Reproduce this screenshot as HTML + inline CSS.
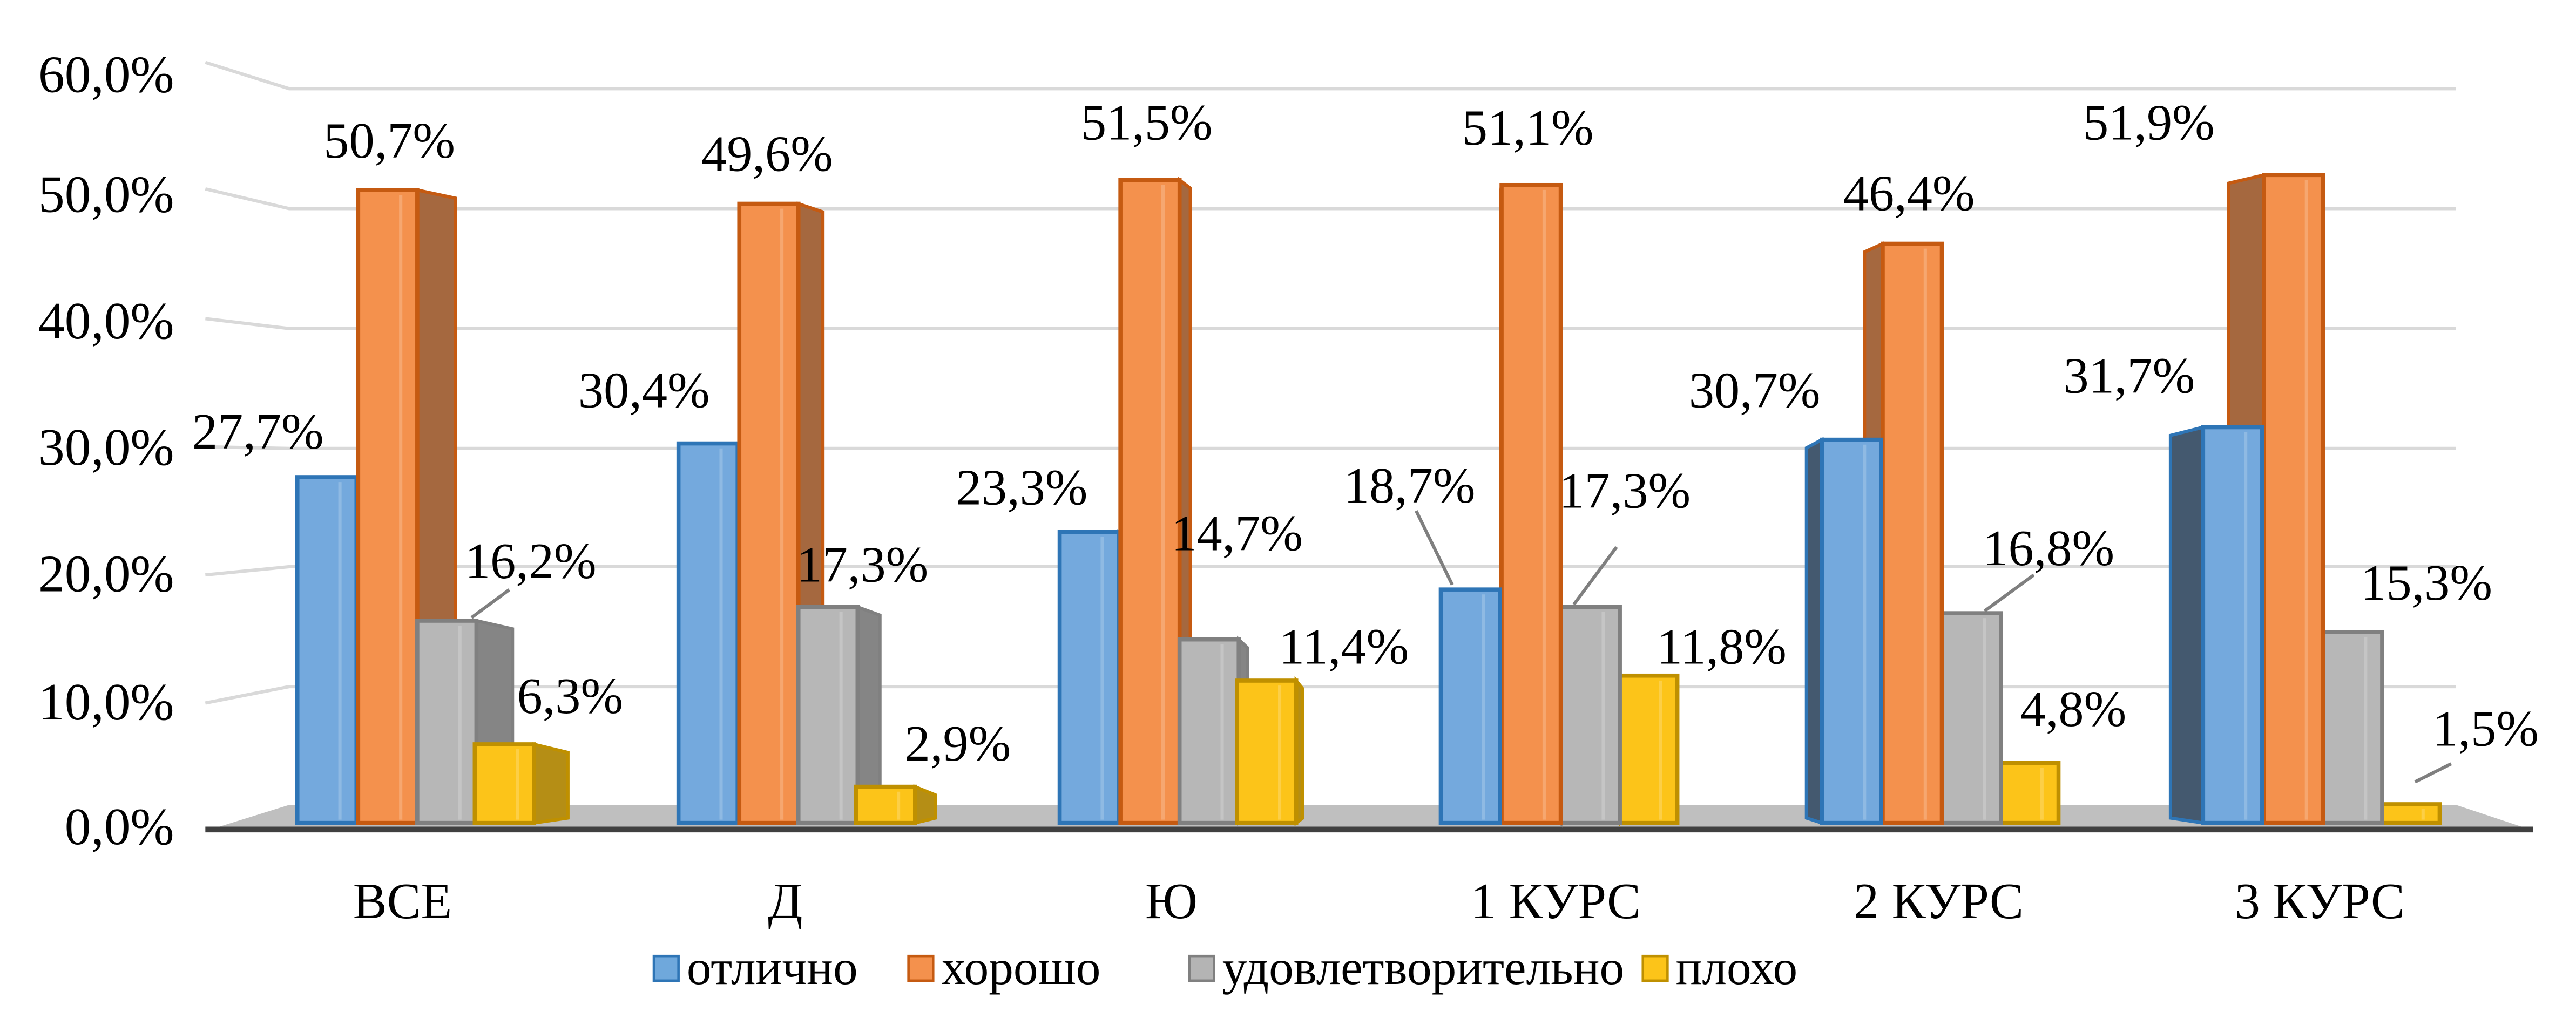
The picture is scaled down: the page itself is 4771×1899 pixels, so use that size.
<!DOCTYPE html>
<html><head><meta charset="utf-8"><style>
html,body{margin:0;padding:0;background:#fff;}
svg{display:block;}
</style></head><body>
<svg id="c" width="4771" height="1899" viewBox="0 0 1568 624" preserveAspectRatio="none" xmlns="http://www.w3.org/2000/svg" font-family="'Liberation Serif', 'Times New Roman', 'DejaVu Serif', serif">
<g stroke="#d9d9d9" stroke-width="2" fill="none">
<polyline points="125,38 176,54 1495,54"/>
<polyline points="125,115 176,127 1495,127"/>
<polyline points="125,194 176,200 1495,200"/>
<polyline points="125,272 176,273 1495,273"/>
<polyline points="125,350 176,345 1495,345"/>
<polyline points="125,428 176,418 1495,418"/>
</g>
<polygon points="176,490 1495,490 1540,505 128,505" fill="#bfbfbf"/>
<line x1="125" y1="505" x2="1542" y2="505" stroke="#404040" stroke-width="3.5"/>
<g id="bars"></g>
<g font-size="32" text-anchor="end" fill="#000">
<text x="106" y="56">60,0%</text>
<text x="106" y="129">50,0%</text>
<text x="106" y="206">40,0%</text>
<text x="106" y="283">30,0%</text>
<text x="106" y="360">20,0%</text>
<text x="106" y="438">10,0%</text>
<text x="106" y="514">0,0%</text>
</g>
<g font-size="31" text-anchor="middle" fill="#000">
<text x="245" y="559">ВСЕ</text>
<text x="478" y="559">Д</text>
<text x="713" y="559">Ю</text>
<text x="947" y="559">1 КУРС</text>
<text x="1180" y="559">2 КУРС</text>
<text x="1412" y="559">3 КУРС</text>
</g>
<g stroke="#7f7f7f" stroke-width="2">
<line x1="310" y1="359" x2="287" y2="376"/>
<line x1="862" y1="311" x2="884" y2="356"/>
<line x1="984" y1="333" x2="958" y2="368"/>
<line x1="1238" y1="350" x2="1208" y2="372"/>
<line x1="1492" y1="465" x2="1470" y2="476"/>
</g>
<g font-size="31" text-anchor="middle" fill="#000">
<text x="157" y="273">27,7%</text>
<text x="237" y="96">50,7%</text>
<text x="323" y="352">16,2%</text>
<text x="347" y="434">6,3%</text>
<text x="392" y="248">30,4%</text>
<text x="467" y="104">49,6%</text>
<text x="525" y="354">17,3%</text>
<text x="583" y="463">2,9%</text>
<text x="622" y="307">23,3%</text>
<text x="698" y="85">51,5%</text>
<text x="753" y="335">14,7%</text>
<text x="818" y="404">11,4%</text>
<text x="858" y="306">18,7%</text>
<text x="930" y="88">51,1%</text>
<text x="989" y="309">17,3%</text>
<text x="1048" y="404">11,8%</text>
<text x="1068" y="248">30,7%</text>
<text x="1162" y="128">46,4%</text>
<text x="1247" y="344">16,8%</text>
<text x="1262" y="442">4,8%</text>
<text x="1296" y="239">31,7%</text>
<text x="1308" y="85">51,9%</text>
<text x="1477" y="365">15,3%</text>
<text x="1513" y="454">1,5%</text>
</g>
<g font-size="30" fill="#000">
<rect x="398" y="582" width="15" height="15" fill="#6fa8dc" stroke="#2e75b6" stroke-width="1.5"/>
<text x="418" y="599">отлично</text>
<rect x="553" y="582" width="15" height="15" fill="#f4914d" stroke="#c55a11" stroke-width="1.5"/>
<text x="573" y="599">хорошо</text>
<rect x="724" y="582" width="15" height="15" fill="#b4b4b4" stroke="#808080" stroke-width="1.5"/>
<text x="744" y="599">удовлетворительно</text>
<rect x="1000" y="582" width="15" height="15" fill="#fcc419" stroke="#bf9000" stroke-width="1.5"/>
<text x="1020" y="599">плохо</text>
</g>
</svg>
<script>
(function(){
var data=[[27.7,50.7,16.2,6.3],[30.4,49.6,17.3,2.9],[23.3,51.5,14.7,11.4],[18.7,51.1,17.3,11.8],[30.7,46.4,16.8,4.8],[31.7,51.9,15.3,1.5]];
var starts=[181,413,645,877,1109,1341];
var offs=[0,37,73,108];
var fill=['#74a9dd','#f4914d','#b7b7b7','#fcc419'];
var stroke=['#2e75b6','#c55a11','#808080','#bf9000'];
var side=['#44596f','#a5683f','#858585','#b58e15'];
var g=document.getElementById('bars');var s='';var base=501,w=36;
for(var i=0;i<6;i++){
 var order=[0,1,2,3]; if(i>=3) order=[3,2,1,0];
 for(var oi=0;oi<4;oi++){var j=order[oi];
  var x=starts[i]+offs[j];var top=base-data[i][j]*7.6;
  var dx,ex;
  if(i<3){ex=x+w;dx=(900-ex)*0.036;}
  else {ex=x;dx=(900-ex)*0.045;}
  s+='<polygon points="'+ex+','+top+' '+(ex+dx)+','+(top+5)+' '+(ex+dx)+','+(base-3)+' '+ex+','+base+'" fill="'+side[j]+'" stroke="'+stroke[j]+'" stroke-width="2"/>';
  s+='<rect x="'+x+'" y="'+top+'" width="'+w+'" height="'+(base-top)+'" fill="'+fill[j]+'" stroke="'+stroke[j]+'" stroke-width="2.5"/>';
  s+='<line x1="'+(x+w*0.72)+'" y1="'+(top+3)+'" x2="'+(x+w*0.72)+'" y2="'+(base-2)+'" stroke="#ffffff" stroke-opacity="0.2" stroke-width="2"/>';
 }
}
g.innerHTML=s;
})();
</script>
</body></html>
